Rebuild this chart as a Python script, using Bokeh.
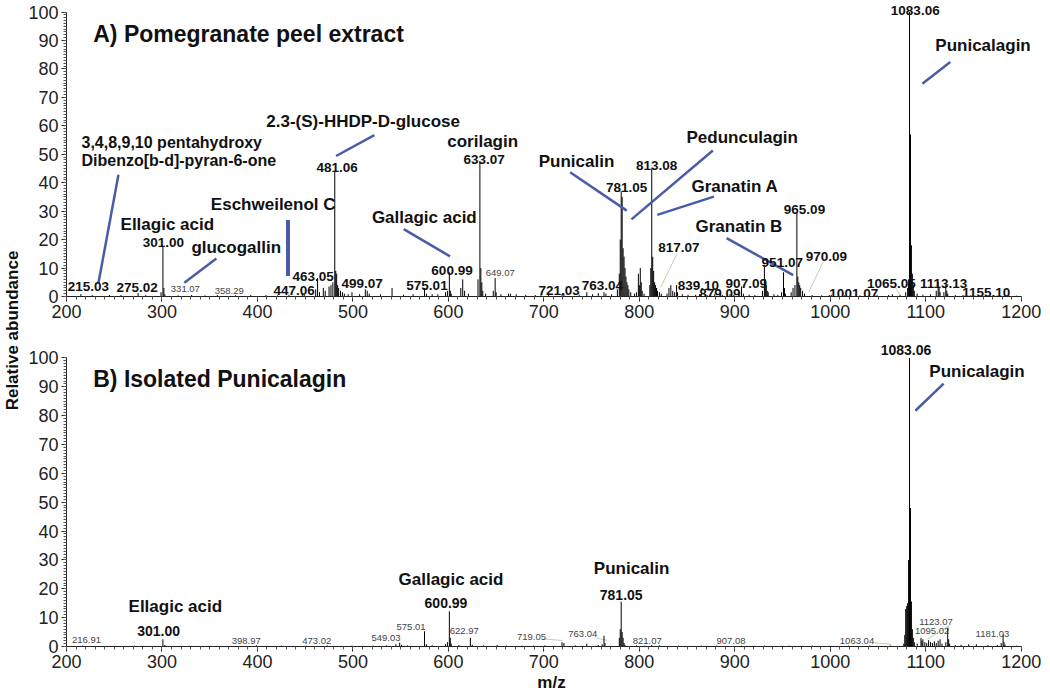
import math
from bokeh.plotting import figure
from bokeh.layouts import row, column
from bokeh.models import ColumnDataSource, LabelSet, Label, Range1d, SingleIntervalTicker
from bokeh.core.properties import value
from bokeh.embed import file_html
from bokeh.resources import INLINE

FONT = "Liberation Sans"

# ---------------- Panel A spectrum (m/z, relative abundance) ----------------
mz_a = [215, 227, 245, 257, 275, 283, 299, 301, 302, 303,
        317, 331, 345, 358, 377, 393, 409, 421, 433, 447, 449,
        461, 463, 465, 469, 471, 475, 477, 479, 481, 482, 483, 484, 485, 487, 489, 491, 495, 499,
        507, 513, 515, 517, 529, 541, 553, 563, 575, 577, 583, 589, 597, 599, 601, 602, 603, 613, 615, 617, 621,
        631, 633, 634, 635, 636, 639, 647, 649, 650, 655, 663, 665, 671, 681, 691, 697,
        705, 719, 721, 737, 745, 751, 757, 763, 765, 771, 777, 779, 780, 781, 782, 783, 784, 785, 786, 787, 788, 789,
        791, 795, 797, 799, 800, 801, 802, 803, 805,
        811, 812, 813, 814, 815, 816, 817, 818, 819, 821, 823, 829, 831, 833, 835, 837, 839, 840, 845, 851, 859,
        863, 871, 879, 887, 895, 899,
        907, 909, 915, 921, 929, 931, 932, 933, 934, 935, 941, 945, 949, 951, 952, 953, 959, 961, 963, 965, 966,
        967, 968, 969, 971, 973, 981, 991, 999,
        1001, 1015, 1031, 1049, 1061, 1065, 1073, 1079, 1081, 1082, 1083, 1084, 1085, 1086, 1087, 1088, 1091, 1097,
        1105, 1111, 1113, 1114, 1115, 1119, 1121, 1122, 1123, 1131, 1139, 1147, 1155, 1163, 1171, 1185, 1195]
int_a = [0.8, 0.5, 0.5, 0.5, 1.2, 0.5, 1.5, 17.6, 3, 0.8,
         0.4, 0.5, 0.4, 0.5, 0.4, 0.5, 0.5, 0.4, 0.6, 1.0, 0.6,
         2.5, 6.5, 1.5, 3, 2, 3.5, 4, 5, 44, 9, 8, 4, 3, 2, 1.5, 1, 0.8, 1.5,
         0.8, 2.5, 2, 1, 0.8, 3, 0.6, 0.8, 3, 1, 0.8, 0.8, 1.5, 2, 8.5, 2, 1, 3, 6, 2, 1,
         6, 47.5, 10, 5, 2, 1, 2, 6.5, 1.5, 0.8, 1, 1, 0.8, 0.6, 0.5, 0.5,
         0.5, 0.8, 1, 0.6, 1.5, 0.8, 1.2, 1.5, 1.0, 0.8, 2.5, 8, 20, 37, 35, 17, 14, 10, 7, 5, 4, 2.5,
         1.5, 1, 1.5, 8, 4, 10, 5, 2, 1,
         4, 10, 45, 14, 9, 5, 4, 3, 2, 1.5, 1, 1, 3, 4, 2, 1.5, 4, 1.5, 0.8, 0.6, 0.6,
         0.8, 0.5, 0.8, 0.5, 0.8, 0.6,
         3.5, 1, 0.6, 0.5, 2, 11, 6, 4, 2, 1.5, 0.8, 0.6, 1.5, 8.5, 3, 1, 1.5, 3, 4, 29.5, 7,
         5, 4, 3, 2, 1, 0.5, 0.4, 0.5,
         0.6, 0.4, 0.4, 0.5, 0.5, 0.8, 0.5, 1.5, 3, 6, 100, 57, 18, 8, 4, 2, 1, 0.6,
         0.8, 2, 5, 3, 1.5, 1.5, 4, 2, 1, 0.5, 0.5, 0.4, 0.6, 0.5, 0.4, 0.4, 0.3]

# ---------------- Panel B spectrum ----------------
mz_b = [216.9, 245, 271, 301, 303, 329, 357, 399, 425, 451, 473, 499,
        521, 535, 545, 549, 551, 557, 575, 577, 583, 597, 599, 601, 602, 603, 611, 623, 625, 637, 651, 661, 677, 689,
        701, 719, 721, 733, 745, 757, 761, 763, 764, 779, 780, 781, 782, 783, 784, 785, 797,
        805, 813, 821, 841, 865, 881, 907, 931, 957, 981,
        1019, 1041, 1063, 1077, 1078, 1079, 1080, 1081, 1082, 1083, 1084, 1085, 1086, 1087, 1088, 1091,
        1095, 1096, 1097, 1099, 1101, 1103, 1105, 1107, 1109, 1111, 1113, 1115, 1117, 1121, 1123, 1124, 1125,
        1131, 1137, 1145, 1153, 1165, 1175, 1179, 1181, 1182, 1183, 1195]
int_b = [0.3, 0.2, 0.3, 2.5, 0.5, 0.2, 0.2, 0.4, 0.3, 0.3, 0.4, 0.3,
         0.3, 0.4, 0.8, 1.3, 0.6, 0.4, 5.3, 0.8, 0.4, 0.8, 1.5, 12.2, 3, 1, 0.5, 3, 0.6, 0.4, 0.5, 0.3, 0.3, 0.3,
         0.4, 1.5, 1.2, 0.4, 1.0, 0.5, 0.8, 3.7, 1.2, 3, 6, 15.5, 5, 3, 1.2, 0.6, 0.4,
         0.3, 0.5, 0.4, 0.3, 0.3, 0.3, 0.3, 0.3, 0.3, 0.3,
         0.3, 0.3, 0.3, 1, 4, 13, 14, 15, 30, 100, 48, 15.6, 6, 3, 1.5, 1,
         3, 2, 2.5, 1.5, 1.2, 2.2, 1.5, 1.2, 1.8, 1.2, 2, 2.5, 1, 1.5, 6.5, 2.5, 1,
         0.5, 0.6, 0.8, 0.8, 0.5, 0.5, 1.2, 4.2, 1.5, 0.6, 0.3]

# ---------------- Annotations, panel A ----------------
title_a = "A) Pomegranate peel extract"
names_a = ["Ellagic acid", "glucogallin", "Eschweilenol C", "2.3-(S)-HHDP-D-glucose", "corilagin",
           "Gallagic acid", "Punicalin", "Pedunculagin", "Granatin A", "Granatin B", "Punicalagin"]
names_a_x = [305.6, 377.8, 416.5, 510.7, 635.9, 574.8, 734.2, 907.8, 900.1, 904.3, 1160]
names_a_y = [25.2, 17.2, 32.4, 61.4, 54.4, 27.6, 47.5, 55.9, 38.5, 24.5, 88.3]
multi_a = ["3,4,8,9,10 pentahydroxy", "Dibenzo[b-d]-pyran-6-one"]
multi_a_x = [215.7, 215.7]
multi_a_y = [54.1, 47.9]
peaks_a = ["215.03", "275.02", "301.00", "447.06", "463.05", "481.06", "499.07", "575.01", "600.99", "633.07",
           "721.03", "763.04", "781.05", "813.08", "817.07", "839.10", "879.09", "907.09", "951.07", "965.09",
           "970.09", "1001.07", "1065.05", "1083.06", "1113.13", "1155.10"]
peaks_a_x = [223, 274, 301.5, 438.5, 458.4, 483.5, 509.6, 577.6, 603.8, 637.5,
             716, 761.4, 786.8, 818.2, 841.5, 861.8, 884.4, 912, 949.7, 973,
             996, 1024.6, 1064, 1089, 1118.7, 1163.4]
peaks_a_y = [3.4, 3.0, 19.0, 2.1, 7.2, 45.2, 4.4, 4.0, 9.3, 48.0,
             2.1, 3.8, 38.3, 46.0, 17.3, 4.0, 1.0, 4.6, 12.1, 30.6,
             14.1, 1.1, 4.7, 100.6, 4.6, 1.4]
small_a = ["331.07", "358.29", "649.07"]
small_a_x = [324.5, 370.5, 654.3]
small_a_y = [2.7, 2.0, 8.4]
lead_a_x0 = [254.4, 357, 522.5, 553.2, 727.5, 877, 878.1, 891.4, 1125.7]
lead_a_y0 = [42.8, 13.4, 56.7, 23.7, 43.7, 51.3, 35.1, 20.5, 82.4]
lead_a_x1 = [233.5, 323.4, 482.4, 601.7, 786.8, 791.7, 818.8, 961.2, 1096.4]
lead_a_y1 = [4.8, 4.8, 49.4, 14.1, 30.2, 27.1, 28.7, 7.5, 74.8]
bar_a_x = [432]
bar_a_y0 = [26.9]
bar_a_y1 = [7.2]
thin_a_x0 = [839.7, 992.5, 1068.2]
thin_a_y0 = [15.3, 12.2, 3.2]
thin_a_x1 = [822.4, 977.5, 1073.5]
thin_a_y1 = [3.2, 1.5, 0.3]

# ---------------- Annotations, panel B ----------------
title_b = "B) Isolated Punicalagin"
names_b = ["Punicalagin", "Ellagic acid", "Gallagic acid", "Punicalin"]
names_b_x = [1153.7, 314, 602.7, 791.9]
names_b_y = [95.3, 13.9, 23.1, 27.0]
peaks_b = ["1083.06", "301.00", "600.99", "781.05"]
peaks_b_x = [1079.3, 296.5, 597.5, 781.0]
peaks_b_y = [102.8, 5.5, 15.1, 18.0]
small_b = ["216.91", "398.97", "473.02", "549.03", "575.01", "622.97", "719.05", "763.04", "821.07",
           "907.08", "1063.04", "1095.02", "1123.07", "1181.03"]
small_b_x = [221, 388.3, 462.2, 534.7, 560.9, 616.6, 687.1, 740.8, 808.3,
             896, 1028, 1106.7, 1110.7, 1169.8]
small_b_y = [2.2, 2.0, 2.0, 2.8, 6.9, 5.5, 3.3, 4.2, 2.0,
             2.0, 2.0, 5.5, 8.6, 4.4]
lead_b_x0 = [1118.7]
lead_b_y0 = [91.1]
lead_b_x1 = [1089.1]
lead_b_y1 = [81.7]
thin_b_x0 = [700.3, 755.4, 1045.7, 1102, 1123.5]
thin_b_y0 = [2.6, 2.9, 1.3, 2.5, 7.4]
thin_b_x1 = [719.5, 766.4, 1064, 1123.5, 1123.5]
thin_b_y1 = [2.1, 2.1, 0.7, 7.1, 4.6]

BLUE = "#4a5ca8"
GREEN = "#b3d8a8"
LEFT_W = 24


def make_panel(height, top, bottom, y_end, xlabel):
    p = figure(width=1020, height=height, x_range=Range1d(200, 1216), y_range=Range1d(0, y_end),
               output_backend="svg", toolbar_location=None,
               min_border_left=42, min_border_right=8, min_border_top=top, min_border_bottom=bottom)
    p.outline_line_color = None
    p.xgrid.visible = False
    p.ygrid.visible = False
    p.background_fill_color = "white"
    p.border_fill_color = "white"
    xa = p.xaxis[0]
    ya = p.yaxis[0]
    xa.ticker = SingleIntervalTicker(interval=100, num_minor_ticks=10)
    ya.ticker = SingleIntervalTicker(interval=10, num_minor_ticks=10)
    xa.bounds = (200, 1200)
    ya.bounds = (0, 100)
    for ax in (xa, ya):
        ax.axis_line_color = "#222222"
        ax.axis_line_width = 1
        ax.major_tick_line_color = "#222222"
        ax.minor_tick_line_color = "#555555"
        ax.major_tick_in = 0
        ax.major_tick_out = 5
        ax.minor_tick_in = 0
        ax.minor_tick_out = 3
        ax.major_label_text_font = FONT
        ax.major_label_text_font_size = "18px"
        ax.major_label_text_color = "#222222"
        ax.major_label_standoff = 3
    if xlabel:
        xa.axis_label = xlabel
        xa.axis_label_text_font = FONT
        xa.axis_label_text_font_size = "17px"
        xa.axis_label_text_font_style = "bold"
        xa.axis_label_text_color = "#111111"
        xa.axis_label_standoff = 2
    return p


def add_spectrum(p, mz, inten):
    src = ColumnDataSource(dict(mz=mz, inten=inten))
    p.segment(x0="mz", y0=0, x1="mz", y1="inten", source=src, line_color="black", line_width=1)


def add_labels(p, texts, xs, ys, size, style, color, align="center"):
    src = ColumnDataSource(dict(x=xs, y=ys, t=texts))
    p.add_layout(LabelSet(x="x", y="y", text="t", source=src, text_align=align, text_baseline="middle",
                          text_font=value(FONT), text_font_size=value(size), text_font_style=style,
                          text_color=color))


def add_leads(p, x0, y0, x1, y1, color, width):
    src = ColumnDataSource(dict(x0=x0, y0=y0, x1=x1, y1=y1))
    p.segment(x0="x0", y0="y0", x1="x1", y1="y1", source=src, line_color=color, line_width=width)


# Panel A
pa = make_panel(340, 3, 44, 103, None)
add_leads(pa, thin_a_x0, thin_a_y0, thin_a_x1, thin_a_y1, GREEN, 1)
add_spectrum(pa, mz_a, int_a)
add_leads(pa, lead_a_x0, lead_a_y0, lead_a_x1, lead_a_y1, BLUE, 2.5)
add_leads(pa, bar_a_x, bar_a_y0, bar_a_x, bar_a_y1, BLUE, 4)
pa.add_layout(Label(x=228, y=92.4, text=title_a, text_font=FONT, text_font_size="23px",
                    text_font_style="bold", text_baseline="middle", text_align="left", text_color="#111111"))
add_labels(pa, names_a, names_a_x, names_a_y, "17px", "bold", "#111111")
add_labels(pa, multi_a, multi_a_x, multi_a_y, "16px", "bold", "#111111", align="left")
add_labels(pa, peaks_a, peaks_a_x, peaks_a_y, "13.5px", "bold", "#111111")
add_labels(pa, small_a, small_a_x, small_a_y, "9.5px", "normal", "#444444")

# Panel B
pb = make_panel(354, 3, 47, 105, "m/z")
add_leads(pb, thin_b_x0, thin_b_y0, thin_b_x1, thin_b_y1, GREEN, 1)
add_spectrum(pb, mz_b, int_b)
add_leads(pb, lead_b_x0, lead_b_y0, lead_b_x1, lead_b_y1, BLUE, 2.5)
pb.add_layout(Label(x=228, y=92.8, text=title_b, text_font=FONT, text_font_size="23px",
                    text_font_style="bold", text_baseline="middle", text_align="left", text_color="#111111"))
add_labels(pb, names_b, names_b_x, names_b_y, "17px", "bold", "#111111")
add_labels(pb, peaks_b, peaks_b_x, peaks_b_y, "14px", "bold", "#111111")
add_labels(pb, small_b, small_b_x, small_b_y, "9.5px", "normal", "#444444")

# Shared y-axis title
lab = figure(width=LEFT_W, height=694, x_range=Range1d(0, LEFT_W), y_range=Range1d(0, 694),
             output_backend="svg", toolbar_location=None, x_axis_type=None, y_axis_type=None,
             min_border=0)
lab.outline_line_color = None
lab.xgrid.visible = False
lab.ygrid.visible = False
lab.add_layout(Label(x=12, y=364, text="Relative abundance", angle=math.pi / 2, text_font=FONT,
                     text_font_size="17px", text_font_style="bold", text_align="center",
                     text_baseline="middle", text_color="#111111"))

layout = row(lab, column(pa, pb))
open("out.html", "w").write(file_html(layout, INLINE))
